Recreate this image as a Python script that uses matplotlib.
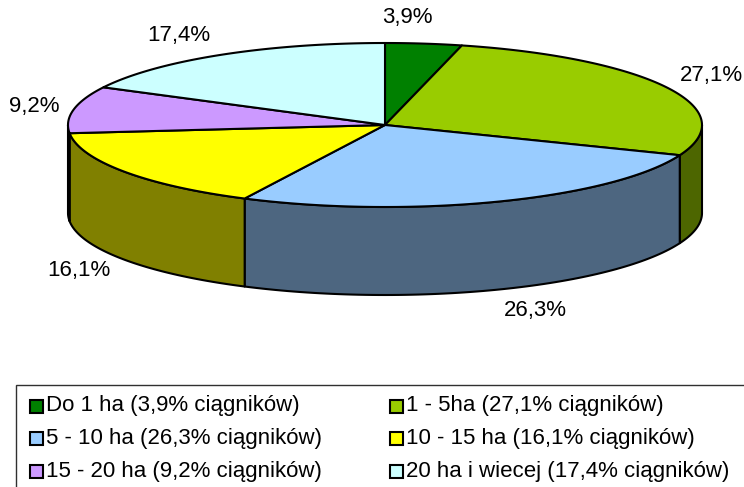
import numpy as np
import matplotlib.pyplot as plt
from matplotlib.patches import Polygon, Rectangle

plt.rcParams['font.family'] = ['Liberation Sans', 'DejaVu Sans']

# data
categories = ['Do 1 ha (3,9% ciągników)', '1 - 5ha (27,1% ciągników)',
              '5 - 10 ha (26,3% ciągników)', '10 - 15 ha (16,1% ciągników)',
              '15 - 20 ha (9,2% ciągników)', '20 ha i wiecej (17,4% ciągników)']
shares = [3.9, 27.1, 26.3, 16.1, 9.2, 17.4]
pct_labels = ['3,9%', '27,1%', '26,3%', '16,1%', '9,2%', '17,4%']
colors = ['#008000', '#99CC00', '#99CCFF', '#FFFF00', '#CC99FF', '#CCFFFF']

W, H = 744, 487
fig = plt.figure(figsize=(W / 100, H / 100), dpi=100)
ax = fig.add_axes([0, 0, 1, 1])
ax.set_xlim(0, W)
ax.set_ylim(H, 0)
ax.axis('off')

# pie geometry (pixels)
cx, cy = 385, 125
rx, ry = 317, 82
depth = 88


def pt(theta, dz=0):
    # theta in degrees, clockwise from 12 o'clock
    t = np.radians(theta)
    return cx + rx * np.sin(t), cy - ry * np.cos(t) + dz


def darker(c, f=0.5):
    c = c.lstrip('#')
    rgb = [int(c[i:i + 2], 16) / 255 * f for i in (0, 2, 4)]
    return tuple(rgb)


total = sum(shares)
bounds = np.concatenate([[0], np.cumsum(shares) / total * 360])

# side walls (front half only)
for i in range(len(shares)):
    a, b = max(bounds[i], 90), min(bounds[i + 1], 270)
    if b <= a:
        continue
    th = np.linspace(a, b, 80)
    top = [pt(t) for t in th]
    bot = [pt(t, depth) for t in th[::-1]]
    ax.add_patch(Polygon(top + bot, closed=True, facecolor=darker(colors[i]),
                         edgecolor='black', linewidth=1.5, joinstyle='round'))

# top faces
for i in range(len(shares)):
    th = np.linspace(bounds[i], bounds[i + 1], 120)
    verts = [(cx, cy)] + [pt(t) for t in th]
    ax.add_patch(Polygon(verts, closed=True, facecolor=colors[i],
                         edgecolor='black', linewidth=1.5, joinstyle='round'))

# percentage labels, pushed out along the slice middle
nudge = [(-22, 4), (4, 2), (20, -7), (-9, -6), (5, 2), (-18, 6)]
for i, lab in enumerate(pct_labels):
    m = np.radians((bounds[i] + bounds[i + 1]) / 2)
    x = cx + (rx + 45) * np.sin(m) + nudge[i][0]
    y = cy - (ry + 30) * np.cos(m) + nudge[i][1]
    if np.cos(m) < 0:
        y += depth
    ax.text(x, y, lab, ha='center', va='center', fontsize=16, color='black')

# legend
ax.add_patch(Rectangle((16, 385), 760, 120, facecolor='white',
                       edgecolor='#303030', linewidth=1.0))
for i, name in enumerate(categories):
    col, row = i % 2, i // 2
    x0 = 30 + col * 360
    y0 = 406 + row * 32.5
    ax.add_patch(Rectangle((x0, y0 - 6.5), 13, 13, facecolor=colors[i],
                           edgecolor='black', linewidth=1.5))
    ax.text(x0 + 16, y0, name, ha='left', va='center', fontsize=16)

fig.savefig('out.png', dpi=100)
